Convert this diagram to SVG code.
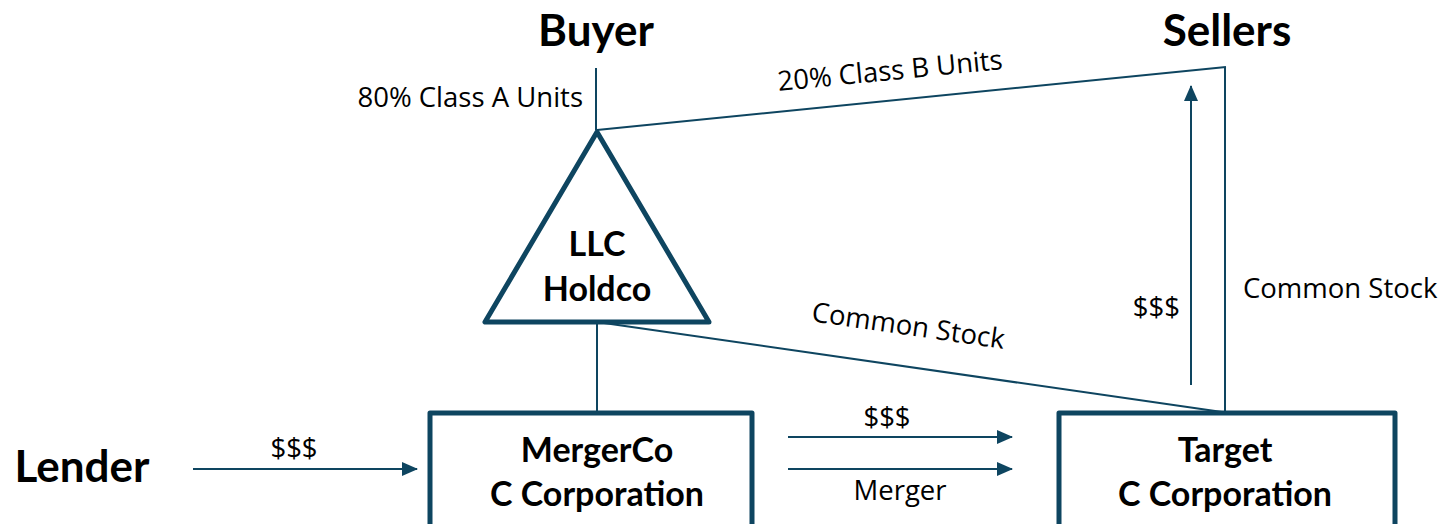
<svg xmlns="http://www.w3.org/2000/svg" width="1443" height="524" viewBox="0 0 1443 524">
<style>
.ln{stroke:#0e4560;stroke-width:2;fill:none}
.nd{stroke:#0e4560;stroke-width:5;fill:#fff;stroke-linejoin:round}
.t{font-family:Lato,"Liberation Sans",sans-serif;fill:#000}
.h{font-size:44px;font-weight:bold}
.b{font-size:34px;font-weight:bold}
.l{font-family:"Open Sans","Liberation Sans",sans-serif;font-size:27.5px}
</style>
<defs>
<marker id="ah" viewBox="0 0 16 16" refX="15" refY="8" markerWidth="16" markerHeight="16" orient="auto" markerUnits="userSpaceOnUse">
<path d="M0,1 L16,8 L0,15 Z" fill="#0e4560"/>
</marker>
</defs>
<rect width="1443" height="524" fill="#fff"/>
<g id="connectors">
<line class="ln" x1="596" y1="68" x2="596" y2="130"/>
<line class="ln" x1="597" y1="130" x2="1226" y2="67"/>
<line class="ln" x1="1225" y1="67" x2="1225" y2="412"/>
<line class="ln" x1="597" y1="322" x2="1222" y2="412"/>
<line class="ln" x1="597" y1="322" x2="597" y2="412"/>
<line class="ln" x1="1191" y1="385" x2="1191" y2="86" marker-end="url(#ah)"/>
<line class="ln" x1="193" y1="469" x2="417" y2="469" marker-end="url(#ah)"/>
<line class="ln" x1="788" y1="437" x2="1012" y2="437" marker-end="url(#ah)"/>
<line class="ln" x1="788" y1="469" x2="1012" y2="469" marker-end="url(#ah)"/>
</g>
<g id="buyer"><text class="t h" x="596" y="46" text-anchor="middle">Buyer</text></g>
<g id="sellers"><text class="t h" x="1227" y="46" text-anchor="middle">Sellers</text></g>
<g id="lender"><text class="t h" x="82" y="482" text-anchor="middle">Lender</text></g>
<g id="llc-holdco">
<polygon class="nd" points="597,132 485,322 709,322"/>
<text class="t b" x="597" y="256" text-anchor="middle">LLC</text>
<text class="t b" x="597" y="301" text-anchor="middle">Holdco</text>
</g>
<g id="mergerco">
<rect class="nd" x="430" y="413" width="322" height="130"/>
<text class="t b" x="597" y="462" text-anchor="middle">MergerCo</text>
<text class="t b" x="597" y="506" text-anchor="middle">C Corporation</text>
</g>
<g id="target">
<rect class="nd" x="1059" y="413" width="336" height="130"/>
<text class="t b" x="1225" y="462" text-anchor="middle">Target</text>
<text class="t b" x="1225" y="506" text-anchor="middle">C Corporation</text>
</g>
<g id="labels">
<text class="l" x="583" y="107" text-anchor="end">80% Class A Units</text>
<text class="l" x="891" y="80" text-anchor="middle" transform="rotate(-5.6 891 80)">20% Class B Units</text>
<text class="l" x="907" y="335" text-anchor="middle" transform="rotate(8.2 907 335)">Common Stock</text>
<text class="l" x="1243" y="298">Common Stock</text>
<text class="l" x="1180" y="317" text-anchor="end">$$$</text>
<text class="l" x="294" y="458" text-anchor="middle">$$$</text>
<text class="l" x="887" y="427" text-anchor="middle">$$$</text>
<text class="l" x="900" y="500" text-anchor="middle">Merger</text>
</g>
</svg>
